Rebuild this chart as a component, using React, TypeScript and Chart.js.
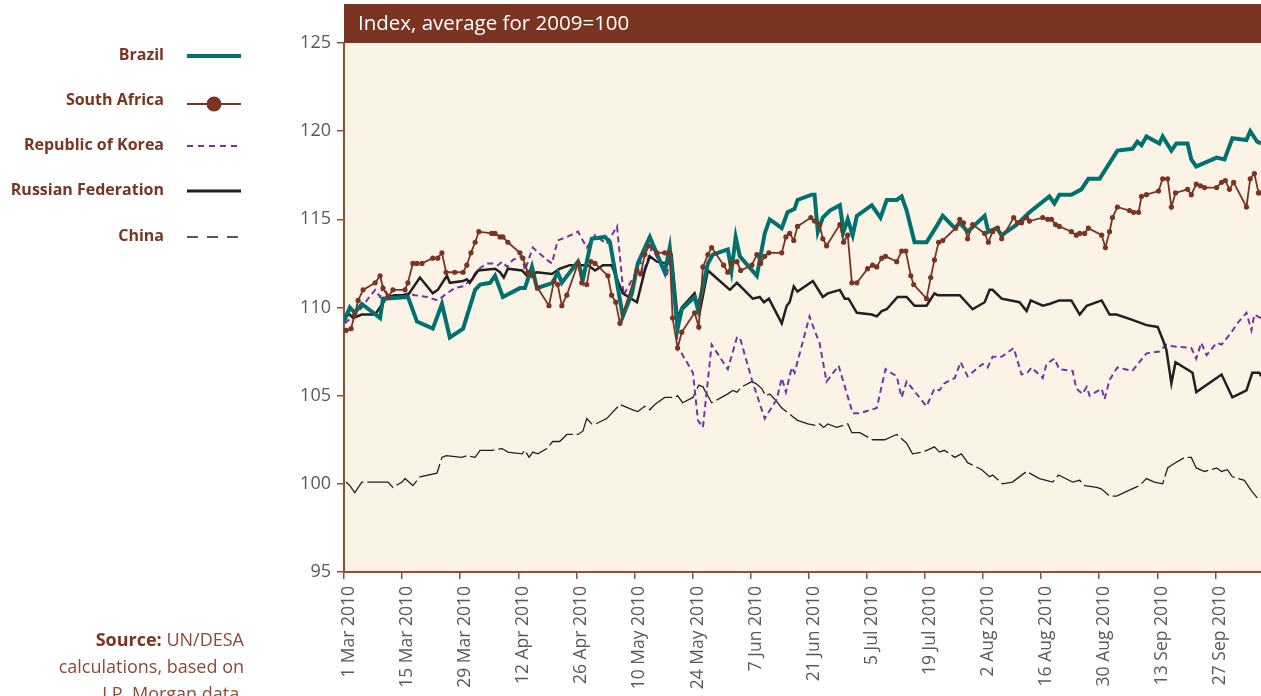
import React, { useEffect, useRef } from "react";
import { Chart, registerables } from "chart.js";

Chart.register(...registerables);

// ---- Data (x = days since 1 Mar 2010, y = index, 2009 average = 100) ----
const tickDays = [0, 14, 28, 42, 56, 70, 84, 98, 112, 126, 140, 154, 168, 182, 196, 210];
const tickLabels = [
  "1 Mar 2010", "15 Mar 2010", "29 Mar 2010", "12 Apr 2010", "26 Apr 2010", "10 May 2010",
  "24 May 2010", "7 Jun 2010", "21 Jun 2010", "5 Jul 2010", "19 Jul 2010", "2 Aug 2010",
  "16 Aug 2010", "30 Aug 2010", "13 Sep 2010", "27 Sep 2010",
];
const yTicks = [95, 100, 105, 110, 115, 120, 125];

const brazilDays = [0, 1.4, 2.6, 4.3, 8.7, 9.4, 15.4, 17.6, 21.4, 23.6, 25.5, 28.7, 31.6, 32.8, 35.2, 36.4, 38.3, 42.4, 43.6, 45.3, 46.5, 50.3, 51.5, 52.5, 56.4, 57.6, 59.7, 62.9, 64.1, 67.2, 69.4, 70.8, 73.7, 77.3, 78.5, 80.4, 81.4, 84.5, 85.3, 87.7, 88.9, 92.5, 93.4, 94.4, 95.4, 99.5, 101.4, 102.6, 105.5, 106.9, 108.6, 109.3, 112.7, 113.4, 114.2, 115.4, 117.1, 119.5, 120.4, 121.4, 122.6, 123.6, 127.2, 129.3, 130.8, 133.2, 134.4, 135.6, 137.5, 140.4, 142.8, 144.3, 147.2, 148.4, 150.3, 154.4, 155.3, 157.3, 158.5, 162.1, 165.2, 170.0, 171.2, 172.4, 175.3, 177.7, 179.4, 182.1, 184.0, 186.4, 190.0, 191.2, 192.2, 193.4, 196.5, 197.3, 199.4, 200.6, 203.3, 204.2, 205.4, 207.4, 210.3, 212.2, 214.1, 217.5, 218.4, 220.1, 221];
const brazilValues = [109.2, 110.0, 109.7, 110.2, 109.4, 110.5, 110.6, 109.2, 108.8, 110.2, 108.3, 108.8, 111.0, 111.3, 111.4, 111.8, 110.6, 111.1, 111.1, 112.3, 111.1, 111.4, 112.0, 111.4, 112.6, 111.6, 113.9, 114.0, 113.7, 109.5, 110.8, 112.5, 114.0, 112.0, 113.4, 108.8, 109.9, 110.6, 109.9, 112.5, 113.0, 113.3, 112.1, 114.0, 112.9, 111.8, 114.2, 115.0, 114.5, 115.4, 115.6, 116.1, 116.4, 116.4, 114.3, 115.1, 115.5, 115.8, 114.3, 115.0, 114.1, 115.2, 115.8, 115.1, 116.1, 116.1, 116.3, 115.5, 113.7, 113.7, 114.6, 115.2, 114.5, 114.8, 114.3, 115.2, 114.3, 114.5, 114.1, 114.7, 115.4, 116.3, 115.9, 116.4, 116.4, 116.7, 117.3, 117.3, 118.0, 118.9, 119.0, 119.4, 119.2, 119.7, 119.3, 119.7, 118.9, 119.3, 119.3, 118.4, 118.0, 118.2, 118.5, 118.4, 119.6, 119.5, 120.0, 119.4, 119.3];

const southAfricaDays = [0.5, 1.7, 2.6, 3.4, 4.6, 7.5, 8.7, 9.4, 10.6, 11.8, 14.7, 15.4, 16.6, 17.6, 18.8, 21.4, 22.6, 23.6, 24.6, 26.7, 28.7, 29.6, 30.6, 31.6, 32.5, 35.6, 36.4, 37.6, 38.3, 39.5, 42.4, 43.1, 44.3, 45.5, 46.7, 49.4, 50.6, 51.5, 52.5, 53.7, 56.4, 57.3, 58.5, 59.5, 60.5, 63.6, 64.5, 65.5, 66.5, 70.6, 71.5, 72.5, 73.5, 75.4, 77.3, 78.5, 79.2, 80.4, 81.4, 84.5, 85.5, 86.5, 87.7, 88.6, 91.5, 92.5, 93.4, 94.7, 95.6, 98.3, 99.5, 100.4, 101.4, 102.4, 105.5, 106.5, 107.4, 108.4, 109.3, 112.5, 113.4, 114.6, 115.4, 116.3, 119.5, 120.4, 121.4, 122.4, 123.6, 126.2, 127.4, 128.4, 129.6, 130.5, 133.2, 134.4, 135.4, 136.6, 137.3, 140.4, 141.4, 142.3, 143.3, 144.3, 147.4, 148.4, 149.3, 150.3, 151.5, 154.4, 155.3, 156.3, 157.5, 158.5, 161.4, 162.3, 163.3, 164.5, 165.2, 168.4, 169.6, 170.5, 171.5, 172.4, 175.3, 176.5, 177.3, 178.5, 179.4, 182.6, 183.5, 184.5, 185.2, 186.4, 189.3, 190.3, 191.5, 192.2, 193.4, 196.3, 197.3, 198.5, 199.4, 200.4, 203.3, 204.2, 205.4, 206.4, 207.4, 210.3, 211.5, 212.4, 213.4, 214.4, 217.5, 218.4, 219.4, 220.4, 221];
const southAfricaValues = [108.7, 108.8, 109.6, 110.4, 111.0, 111.4, 111.8, 111.1, 110.6, 111.0, 111.0, 111.4, 112.5, 112.5, 112.5, 112.8, 112.8, 113.1, 112.0, 112.0, 112.0, 112.4, 113.1, 113.7, 114.3, 114.2, 114.2, 114.0, 114.0, 113.7, 113.1, 112.8, 112.0, 111.8, 111.1, 110.1, 111.5, 111.3, 110.1, 110.7, 112.5, 111.4, 111.3, 112.6, 112.5, 111.8, 110.7, 110.3, 109.1, 112.1, 111.9, 113.0, 113.5, 113.1, 113.1, 113.1, 109.4, 107.7, 108.6, 109.7, 108.9, 112.3, 113.0, 113.4, 112.4, 112.0, 112.5, 112.6, 112.1, 112.4, 113.0, 112.5, 112.9, 113.1, 113.1, 114.0, 114.2, 113.8, 114.6, 115.1, 114.9, 114.7, 113.9, 113.5, 114.7, 113.7, 114.1, 111.4, 111.4, 112.2, 112.4, 112.3, 112.8, 112.9, 112.6, 113.2, 113.2, 111.8, 111.3, 110.5, 111.7, 112.7, 113.7, 113.8, 114.5, 115.0, 114.8, 113.9, 114.7, 114.2, 113.7, 114.3, 114.5, 113.9, 115.1, 114.8, 114.8, 115.1, 114.9, 115.1, 115.0, 115.0, 114.7, 114.6, 114.3, 114.1, 114.2, 114.2, 114.5, 114.1, 113.4, 114.3, 115.1, 115.7, 115.5, 115.4, 115.4, 116.3, 116.4, 116.6, 117.3, 117.3, 115.7, 116.5, 116.7, 116.4, 117.0, 116.9, 116.8, 116.8, 117.1, 117.2, 116.7, 117.1, 115.7, 117.3, 117.6, 116.5, 116.5];

const koreaDays = [0.2, 2.6, 4.3, 5.5, 7.5, 8.7, 9.4, 10.6, 12.3, 15.4, 17.1, 20.0, 22.6, 24.8, 26.7, 28.7, 30.8, 32.0, 34.4, 35.9, 37.1, 38.1, 39.3, 40.7, 42.9, 43.6, 45.5, 48.9, 50.1, 51.5, 53.7, 56.4, 58.5, 60.5, 63.3, 65.8, 67.4, 70.6, 71.3, 72.0, 74.2, 74.9, 77.8, 78.5, 79.7, 80.4, 84.1, 85.3, 86.5, 88.6, 92.5, 94.7, 95.4, 98.3, 101.4, 104.3, 105.5, 106.5, 107.9, 108.6, 110.5, 112.2, 113.4, 114.6, 116.3, 119.2, 122.6, 124.3, 128.4, 130.5, 133.2, 134.4, 135.6, 140.4, 142.3, 143.5, 144.7, 147.2, 148.6, 150.3, 153.9, 155.1, 156.3, 158.5, 161.4, 163.3, 164.7, 165.7, 168.4, 169.3, 171.2, 172.4, 175.6, 176.5, 178.0, 179.0, 179.7, 182.6, 183.3, 184.5, 186.4, 190.0, 193.4, 196.5, 198.2, 199.7, 204.2, 205.4, 206.6, 207.9, 210.3, 211.5, 212.9, 213.9, 215.3, 217.5, 218.7, 219.4, 221];
const koreaValues = [109.1, 109.6, 110.0, 110.4, 111.0, 110.6, 111.2, 110.7, 110.6, 110.8, 110.7, 110.6, 110.4, 110.8, 111.1, 111.2, 111.6, 112.1, 112.5, 112.5, 112.4, 112.6, 112.3, 112.7, 112.9, 112.1, 113.4, 112.7, 112.5, 113.8, 114.0, 114.3, 113.4, 114.1, 113.6, 114.6, 110.7, 112.1, 112.8, 111.9, 113.4, 113.1, 111.7, 113.0, 110.3, 107.8, 106.3, 103.6, 103.2, 107.9, 106.5, 108.3, 108.3, 105.9, 103.7, 104.8, 106.0, 105.2, 106.6, 106.3, 108.0, 109.5, 108.7, 108.0, 105.8, 106.7, 104.0, 104.0, 104.3, 106.5, 106.1, 104.9, 105.8, 104.4, 105.4, 105.3, 105.7, 106.0, 106.9, 106.1, 106.8, 106.6, 107.2, 107.2, 107.7, 106.2, 106.3, 106.6, 106.0, 106.8, 107.1, 106.5, 106.4, 105.4, 105.1, 105.5, 105.0, 105.4, 104.8, 105.9, 106.6, 106.4, 107.4, 107.5, 107.9, 107.8, 107.7, 107.1, 108.0, 107.3, 108.0, 107.9, 108.3, 108.6, 109.1, 109.7, 108.7, 109.6, 109.4];

const russiaDays = [0.2, 1.4, 2.2, 4.3, 7.5, 10.4, 12.3, 15.4, 18.3, 21.4, 22.6, 24.8, 25.5, 28.7, 29.6, 30.3, 32.3, 36.4, 37.6, 38.5, 39.5, 42.9, 44.1, 46.5, 50.1, 52.0, 54.4, 58.8, 60.5, 62.4, 64.5, 67.2, 70.6, 72.5, 73.7, 75.4, 77.8, 79.0, 80.4, 81.4, 84.5, 85.7, 87.7, 93.0, 94.7, 98.5, 100.2, 101.2, 102.4, 105.5, 106.7, 107.4, 108.4, 109.3, 113.0, 115.4, 116.6, 119.5, 120.7, 121.6, 123.6, 127.2, 128.4, 129.6, 130.8, 133.4, 135.6, 137.5, 140.4, 142.3, 143.1, 148.4, 151.5, 154.4, 155.6, 156.3, 158.5, 162.8, 164.5, 165.5, 168.4, 170.0, 172.4, 175.3, 177.3, 179.0, 182.6, 184.5, 186.2, 190.0, 193.4, 196.1, 197.3, 198.2, 199.4, 200.4, 204.5, 205.4, 211.5, 214.1, 217.5, 218.9, 220.6, 221];
const russiaValues = [109.5, 109.6, 109.4, 109.6, 109.6, 110.6, 110.7, 110.7, 111.7, 110.8, 111.0, 111.8, 111.4, 111.5, 111.6, 111.4, 112.1, 112.2, 112.0, 111.7, 112.2, 112.1, 111.8, 112.0, 111.9, 112.2, 112.4, 112.4, 112.1, 112.4, 112.4, 110.8, 110.3, 112.1, 112.9, 112.6, 112.5, 112.9, 109.4, 110.0, 110.8, 109.7, 112.1, 111.0, 111.4, 110.5, 110.6, 110.3, 110.5, 109.1, 110.1, 110.3, 111.2, 110.9, 111.5, 110.6, 110.8, 111.0, 110.5, 110.5, 109.7, 109.6, 109.5, 109.8, 109.9, 110.6, 110.6, 110.1, 110.1, 110.8, 110.7, 110.7, 109.9, 110.3, 111.0, 111.0, 110.5, 110.3, 109.8, 110.4, 110.1, 110.2, 110.4, 110.4, 109.6, 110.1, 110.4, 109.6, 109.6, 109.3, 109.0, 108.9, 108.2, 107.6, 105.7, 106.9, 106.3, 105.2, 106.2, 104.9, 105.3, 106.3, 106.3, 106.1];

const chinaDays = [0.5, 1.4, 2.6, 4.3, 10.6, 11.8, 14.0, 14.7, 16.6, 18.3, 22.4, 23.6, 24.6, 28.4, 29.6, 31.6, 32.8, 35.6, 38.1, 39.5, 42.9, 43.6, 44.6, 45.5, 46.7, 48.9, 50.3, 52.0, 53.7, 56.4, 57.6, 58.5, 59.7, 60.7, 63.3, 66.5, 69.6, 70.8, 72.5, 73.7, 74.9, 77.3, 79.7, 80.4, 81.6, 84.1, 85.5, 86.5, 88.6, 91.0, 92.5, 93.7, 94.7, 95.9, 98.3, 99.2, 100.7, 101.6, 102.6, 103.8, 105.5, 109.3, 111.8, 113.9, 114.6, 115.6, 116.6, 118.7, 121.4, 122.4, 124.3, 127.4, 130.3, 133.2, 135.6, 137.0, 139.5, 142.3, 143.5, 144.7, 147.2, 148.8, 150.3, 153.7, 155.6, 156.3, 158.7, 161.1, 164.5, 167.6, 170.8, 172.2, 175.6, 177.3, 178.5, 181.4, 182.6, 184.5, 186.2, 189.8, 191.7, 193.4, 195.3, 197.3, 198.5, 199.7, 202.6, 204.2, 205.4, 207.4, 210.3, 211.5, 212.9, 214.1, 217.0, 218.7, 220.1, 221];
const chinaValues = [100.1, 99.9, 99.5, 100.1, 100.1, 99.8, 100.1, 100.3, 99.9, 100.4, 100.6, 101.5, 101.6, 101.5, 101.6, 101.5, 101.9, 101.9, 102.0, 101.8, 101.7, 101.9, 101.5, 101.8, 101.7, 102.0, 102.4, 102.4, 102.8, 102.8, 103.0, 103.7, 103.4, 103.4, 103.7, 104.5, 104.2, 104.1, 104.4, 104.2, 104.5, 104.9, 104.9, 105.0, 104.6, 104.9, 105.6, 105.5, 104.6, 104.9, 105.1, 105.3, 105.2, 105.5, 105.8, 105.7, 105.4, 105.0, 105.1, 104.8, 104.3, 103.6, 103.4, 103.3, 103.4, 103.2, 103.4, 103.2, 103.4, 102.9, 102.9, 102.5, 102.5, 102.8, 102.3, 101.7, 101.8, 102.1, 101.8, 101.9, 101.5, 101.7, 101.2, 100.8, 100.4, 100.5, 100.0, 100.1, 100.7, 100.3, 100.1, 100.5, 100.1, 100.2, 99.9, 99.8, 99.7, 99.3, 99.3, 99.7, 99.9, 100.3, 100.1, 100.0, 100.9, 101.1, 101.5, 101.5, 100.9, 100.7, 100.9, 100.7, 100.8, 100.4, 100.2, 99.6, 99.2, 99.3];

// ---- Styles ----
const BROWN = "#7a3421";
const AXIS = "#9a4a33";
const CREAM = "#fbf4e6";
const TEAL = "#00716f";
const PURPLE = "#7035a3";
const BLACK = "#231f20";
const TICK_TXT = "#58595b";
const FONT = '"Open Sans", "Noto Sans", sans-serif';

const pts = (xs: number[], ys: number[]) => xs.map((x, i) => ({ x, y: ys[i] }));

const decorPlugin = {
  id: "decor",
  beforeDraw(chart: any) {
    const { ctx, chartArea } = chart;
    const { left, right, top, bottom } = chartArea;
    ctx.save();
    ctx.fillStyle = CREAM;
    ctx.fillRect(left, top, right - left, bottom - top);
    ctx.fillStyle = BROWN;
    ctx.fillRect(left, 4, chart.width - left, top - 4);
    ctx.fillStyle = "#ffffff";
    ctx.font = `20.5px ${FONT}`;
    ctx.textBaseline = "middle";
    ctx.textAlign = "left";
    ctx.fillText("Index, average for 2009=100", left + 14, 24);
    ctx.restore();
  },
  afterDraw(chart: any) {
    const { ctx } = chart;
    ctx.save();
    const items = [
      { label: "Brazil", y: 55, color: TEAL, width: 4, dash: [] as number[], dot: false },
      { label: "South Africa", y: 100, color: BROWN, width: 2, dash: [], dot: true },
      { label: "Republic of Korea", y: 145, color: PURPLE, width: 2, dash: [6, 5], dot: false },
      { label: "Russian Federation", y: 190, color: BLACK, width: 3, dash: [], dot: false },
      { label: "China", y: 236, color: BLACK, width: 1.5, dash: [11, 9], dot: false },
    ];
    ctx.font = `bold 16px ${FONT}`;
    ctx.textAlign = "right";
    ctx.textBaseline = "middle";
    for (const it of items) {
      ctx.fillStyle = BROWN;
      ctx.fillText(it.label, 164, it.y);
      const ly = it.y + (it.dot ? 4 : 1);
      ctx.beginPath();
      ctx.setLineDash(it.dash);
      ctx.strokeStyle = it.color;
      ctx.lineWidth = it.width;
      ctx.moveTo(187, ly);
      ctx.lineTo(241, ly);
      ctx.stroke();
      ctx.setLineDash([]);
      if (it.dot) {
        ctx.beginPath();
        ctx.fillStyle = BROWN;
        ctx.arc(214, ly, 7.5, 0, Math.PI * 2);
        ctx.fill();
      }
    }
    // Source note
    ctx.textAlign = "right";
    ctx.textBaseline = "middle";
    const rx = 244;
    ctx.font = `18px ${FONT}`;
    const rest = " UN/DESA";
    const wRest = ctx.measureText(rest).width;
    ctx.fillStyle = "#8e4a35";
    ctx.fillText(rest, rx, 641);
    ctx.font = `bold 18px ${FONT}`;
    ctx.fillStyle = BROWN;
    ctx.fillText("Source:", rx - wRest, 641);
    ctx.font = `18px ${FONT}`;
    ctx.fillStyle = "#8e4a35";
    ctx.fillText("calculations, based on", rx, 668);
    ctx.fillText("J.P. Morgan data.", rx, 695);
    ctx.restore();
  },
};

export default function App() {
  const ref = useRef<HTMLCanvasElement | null>(null);
  useEffect(() => {
    if (!ref.current) return;
    Chart.defaults.font.family = FONT;
    const chart = new Chart(ref.current, {
      type: "line",
      data: {
        datasets: [
          {
            label: "South Africa",
            data: pts(southAfricaDays, southAfricaValues),
            borderColor: BROWN,
            backgroundColor: BROWN,
            borderWidth: 1.8,
            pointRadius: 2.6,
            pointBorderWidth: 0,
            pointBackgroundColor: BROWN,
            order: 0,
          },
          {
            label: "Brazil",
            data: pts(brazilDays, brazilValues),
            borderColor: TEAL,
            borderWidth: 4,
            pointRadius: 0,
            order: 1,
          },
          {
            label: "Russian Federation",
            data: pts(russiaDays, russiaValues),
            borderColor: BLACK,
            borderWidth: 2.5,
            pointRadius: 0,
            order: 2,
          },
          {
            label: "Republic of Korea",
            data: pts(koreaDays, koreaValues),
            borderColor: PURPLE,
            borderWidth: 2,
            borderDash: [6, 4],
            pointRadius: 0,
            order: 3,
          },
          {
            label: "China",
            data: pts(chinaDays, chinaValues),
            borderColor: BLACK,
            borderWidth: 1.3,
            borderDash: [28, 4],
            pointRadius: 0,
            order: 4,
          },
        ],
      },
      options: {
        animation: false,
        responsive: false,
        devicePixelRatio: 1,
        layout: { autoPadding: false, padding: { top: 43, right: 0, bottom: 0, left: 0 } },
        plugins: { legend: { display: false }, tooltip: { enabled: false }, title: { display: false } },
        elements: { line: { tension: 0 } },
        scales: {
          x: {
            type: "linear",
            min: 0,
            max: 221,
            afterBuildTicks: (s: any) => {
              s.ticks = tickDays.map((v) => ({ value: v }));
            },
            afterFit: (s: any) => {
              s.height = 124;
              s.paddingLeft = 0;
              s.paddingRight = 0;
            },
            ticks: {
              autoSkip: false,
              minRotation: 90,
              maxRotation: 90,
              padding: 7,
              labelOffset: 5,
              color: TICK_TXT,
              font: { size: 17.5, family: FONT },
              callback: (_v: any, i: number) => tickLabels[i],
            },
            grid: { display: true, drawOnChartArea: false, drawTicks: true, tickLength: 7, color: AXIS, lineWidth: 1.5 },
            border: { display: true, color: AXIS, width: 2 },
          },
          y: {
            type: "linear",
            min: 95,
            max: 125,
            afterBuildTicks: (s: any) => {
              s.ticks = yTicks.map((v) => ({ value: v }));
            },
            afterFit: (s: any) => {
              s.width = 344;
            },
            ticks: {
              padding: 6,
              color: TICK_TXT,
              font: { size: 18, family: FONT },
              callback: (v: any) => String(v),
            },
            grid: { display: true, drawOnChartArea: false, drawTicks: true, tickLength: 7, color: AXIS, lineWidth: 1.5 },
            border: { display: true, color: AXIS, width: 2 },
          },
        },
      },
      plugins: [decorPlugin],
    } as any);
    return () => chart.destroy();
  }, []);
  return (
    <div style={{ position: "fixed", left: 0, top: 0, width: 1261, height: 696, overflow: "hidden", background: "#fff" }}>
      <canvas ref={ref} width={1261} height={696} style={{ display: "block", width: 1261, height: 696 }} />
    </div>
  );
}
